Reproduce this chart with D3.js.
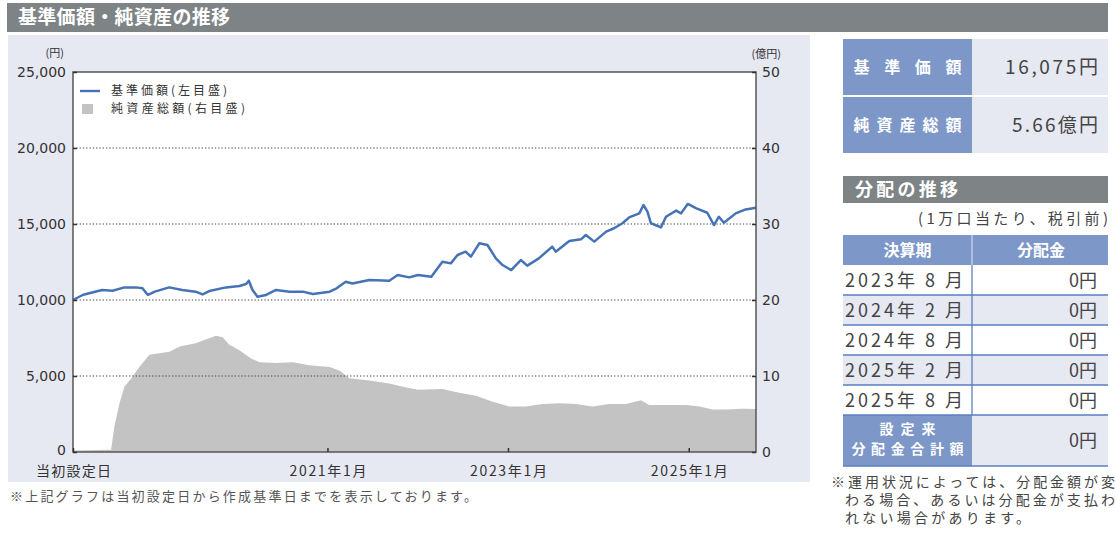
<!DOCTYPE html>
<html>
<head>
<meta charset="utf-8">
<script src="https://cdn.jsdelivr.net/npm/d3@7"></script>
<style>
body { margin: 0; background: #fff; }
svg { display: block; }
</style>
</head>
<body>
<script>
var parseDate = d3.timeParse("%Y-%m-%d")

var startDate = "2018-03-09"
var endDate = "2025-09-30"

// 基準価額 (円)
var navDates = ["2018-03-09","2018-04-17","2018-05-13","2018-07-05","2018-08-16","2018-10-03","2018-11-19","2018-12-15",
  "2019-01-06","2019-02-03","2019-04-02","2019-05-25","2019-07-18","2019-08-15","2019-09-11","2019-11-18",
  "2020-01-11","2020-02-07","2020-02-18","2020-03-04","2020-03-24","2020-04-28","2020-06-07","2020-08-01","2020-09-23","2020-11-03",
  "2021-01-10","2021-02-07","2021-03-16","2021-04-12","2021-06-19","2021-09-08","2021-10-12","2021-11-28",
  "2022-01-02","2022-02-25","2022-04-11","2022-05-15","2022-06-11","2022-07-14","2022-08-04","2022-09-07","2022-10-10","2022-11-13","2022-12-10",
  "2023-01-14","2023-02-22","2023-03-20","2023-05-06","2023-06-29","2023-07-13","2023-09-06","2023-10-23","2023-11-12","2023-12-16",
  "2024-02-02","2024-03-05","2024-04-08","2024-05-05","2024-06-15","2024-07-02","2024-07-18","2024-08-01","2024-09-11","2024-10-01","2024-11-11","2024-12-01","2024-12-28",
  "2025-02-01","2025-03-17","2025-04-13","2025-05-03","2025-05-23","2025-07-10","2025-08-19","2025-09-30"]
var navValues = [10000,10330,10440,10660,10610,10830,10830,10770,
  10330,10550,10830,10660,10550,10370,10590,10830,
  10920,11050,11270,10660,10220,10330,10660,10550,10550,10390,
  10550,10770,11200,11090,11320,11270,11640,11490,
  11640,11530,12520,12410,12960,13180,12850,13730,13620,12740,12300,
  11970,12630,12260,12740,13510,13180,13880,13990,14280,13840,
  14500,14720,15050,15440,15700,16250,15810,15050,14780,15480,15880,15700,16320,
  16030,15740,14930,15480,15080,15700,15960,16075]

// 純資産総額 (億円)
var assetDates = ["2018-03-09","2018-08-10","2018-08-23","2018-09-13","2018-10-03","2018-11-05","2018-12-02",
  "2019-01-12","2019-02-22","2019-04-02","2019-05-18","2019-07-18","2019-08-28","2019-10-08","2019-11-04","2019-12-01",
  "2020-01-11","2020-02-27","2020-04-01","2020-06-07","2020-08-14","2020-10-20",
  "2021-01-10","2021-02-20","2021-03-30","2021-06-19","2021-09-08","2021-11-02",
  "2022-01-02","2022-04-11","2022-06-18","2022-08-25","2022-10-31",
  "2023-01-07","2023-03-14","2023-05-20","2023-07-27","2023-10-03","2023-12-09",
  "2024-02-15","2024-04-22","2024-06-22","2024-07-25","2024-10-01","2024-12-21",
  "2025-02-14","2025-04-07","2025-05-30","2025-08-06","2025-09-30"]
var assetValues = [0.2,0.3,3.3,6.4,8.6,9.9,11.2,
  12.8,13.0,13.2,13.9,14.3,14.8,15.3,15.1,14.1,
  13.4,12.3,11.8,11.7,11.8,11.4,
  11.2,10.7,9.7,9.4,9.0,8.6,
  8.2,8.3,7.8,7.4,6.6,
  6.0,6.0,6.3,6.4,6.3,6.0,
  6.3,6.3,6.8,6.2,6.2,6.2,
  6.0,5.6,5.6,5.7,5.66]

var leftTicks = [0, 5000, 10000, 15000, 20000, 25000]
var rightTicks = [0, 10, 20, 30, 40, 50]
var xTickDates = ["2018-03-09", "2021-01-01", "2023-01-01", "2025-01-01"]
var xTickLabels = ["当初設定日", "2021年1月", "2023年1月", "2025年1月"]

var infoLabels = ["基準価額", "純資産総額"]
var infoValues = ["16,075円", "5.66億円"]

var distPeriods = ["2023年 8 月", "2024年 2 月", "2024年 8 月", "2025年 2 月", "2025年 8 月"]
var distAmounts = ["0円", "0円", "0円", "0円", "0円"]
var distTotal = "0円"

var noteLines = ["※運用状況によっては、分配金額が変", "わる場合、あるいは分配金が支払わ", "れない場合があります。"]

var JP = '"Noto Sans CJK JP", "Noto Sans", sans-serif'
var NUM = '"DejaVu Sans", "Noto Sans CJK JP", sans-serif'

var navBlue = "#4673b6", areaGray = "#c3c3c3", lav = "#e6e8f2",
    labelBlue = "#7c97c8", headGray = "#7e8386", ruleBlue = "#5a7ec0", ink = "#444"

var nav = navDates.map(function (d, i) { return { date: parseDate(d), value: navValues[i] } })
var assets = assetDates.map(function (d, i) { return { date: parseDate(d), value: assetValues[i] } })

var svg = d3.select("body").append("svg")
  .attr("width", 1116)
  .attr("height", 534)
  .style("font-family", JP)

// title bar
svg.append("rect").attr("x", 7).attr("y", 3).attr("width", 1101).attr("height", 29).attr("fill", headGray)
svg.append("text").attr("x", 18).attr("y", 24)
  .attr("fill", "#fff").style("font-size", "19px").style("font-weight", "bold")
  .attr("textLength", 212).attr("lengthAdjust", "spacing")
  .text("基準価額・純資産の推移")

// chart panel
svg.append("rect").attr("x", 8).attr("y", 35).attr("width", 802).attr("height", 447).attr("fill", lav)

var L = 73, R = 756, T = 72, B = 452

var x = d3.scaleTime().domain([parseDate(startDate), parseDate(endDate)]).range([L, R])
var yL = d3.scaleLinear().domain([0, 25000]).range([B, T])
var yR = d3.scaleLinear().domain([0, 50]).range([B, T])

svg.append("rect").attr("x", L).attr("y", T).attr("width", R - L).attr("height", B - T).attr("fill", "#fff")

svg.append("path")
  .datum(assets)
  .attr("fill", areaGray)
  .attr("d", d3.area()
    .x(function (d) { return x(d.date) })
    .y0(yR(0))
    .y1(function (d) { return yR(d.value) }))

svg.selectAll(".grid")
  .data(leftTicks.filter(function (v) { return v > 0 && v < 25000 }))
  .enter().append("line")
  .attr("class", "grid")
  .attr("x1", L).attr("x2", R)
  .attr("y1", function (d) { return yL(d) })
  .attr("y2", function (d) { return yL(d) })
  .attr("stroke", "#444")
  .attr("stroke-width", 1)
  .attr("stroke-dasharray", "1.3,2")

svg.append("path")
  .datum(nav)
  .attr("fill", "none")
  .attr("stroke", navBlue)
  .attr("stroke-width", 2.5)
  .attr("stroke-linejoin", "round")
  .attr("d", d3.line()
    .x(function (d) { return x(d.date) })
    .y(function (d) { return yL(d.value) }))

svg.append("rect").attr("x", L).attr("y", T).attr("width", R - L).attr("height", B - T)
  .attr("fill", "none").attr("stroke", "#555").attr("stroke-width", 1.5)

var axL = svg.append("g")
  .attr("transform", "translate(" + L + ",0)")
  .call(d3.axisLeft(yL).tickValues(leftTicks).tickSize(-4).tickPadding(7).tickFormat(d3.format(",")))
var axR = svg.append("g")
  .attr("transform", "translate(" + R + ",0)")
  .call(d3.axisRight(yR).tickValues(rightTicks).tickSize(-4).tickPadding(6))
var axX = svg.append("g")
  .attr("transform", "translate(0," + B + ")")
  .call(d3.axisBottom(x).tickValues(xTickDates.map(parseDate)).tickSize(-4).tickPadding(14)
    .tickFormat(function (d, i) { return xTickLabels[i] }))

;[axL, axR, axX].forEach(function (g) {
  g.attr("font-family", NUM).attr("font-size", 14).attr("color", "#333")
  g.select(".domain").remove()
  g.selectAll(".tick line").attr("stroke-width", 1.5)
})
axX.attr("font-family", JP).attr("font-size", 14)
axX.selectAll(".tick text").attr("textLength", function (d, i) { return i ? 77 : 75 }).attr("lengthAdjust", "spacing")
// the 0 label sits right above 当初設定日, nudge it up slightly
axL.selectAll(".tick text").filter(function (d) { return d === 0 }).attr("dy", "0.2em")

svg.append("text").attr("x", 64).attr("y", 57).attr("text-anchor", "end")
  .style("font-size", "11px").attr("fill", "#333").text("(円)")
svg.append("text").attr("x", 781).attr("y", 58).attr("text-anchor", "end")
  .style("font-size", "11px").attr("fill", "#333").text("(億円)")

// legend
svg.append("line").attr("x1", 80).attr("x2", 100).attr("y1", 91).attr("y2", 91)
  .attr("stroke", navBlue).attr("stroke-width", 2.4)
svg.append("rect").attr("x", 82).attr("y", 104).attr("width", 11).attr("height", 10).attr("fill", areaGray)
svg.append("text").attr("x", 111).attr("y", 95).style("font-size", "12px").attr("fill", "#333")
  .attr("textLength", 116).attr("lengthAdjust", "spacing").text("基準価額(左目盛)")
svg.append("text").attr("x", 111).attr("y", 113).style("font-size", "12px").attr("fill", "#333")
  .attr("textLength", 134).attr("lengthAdjust", "spacing").text("純資産総額(右目盛)")

svg.append("text").attr("x", 10).attr("y", 501).style("font-size", "13px").attr("fill", "#555")
  .attr("textLength", 467).attr("lengthAdjust", "spacing")
  .text("※上記グラフは当初設定日から作成基準日までを表示しております。")

// right side: 基準価額 / 純資産総額
var PX = 843, PM = 972, PR = 1108

var info = svg.selectAll(".info").data(infoLabels).enter().append("g").attr("class", "info")
info.append("rect").attr("x", PX).attr("y", function (d, i) { return 39 + i * 58 })
  .attr("width", PM - PX).attr("height", 56).attr("fill", labelBlue)
info.append("rect").attr("x", PM).attr("y", function (d, i) { return 39 + i * 58 })
  .attr("width", PR - PM).attr("height", 56).attr("fill", lav)
info.append("text").attr("x", (PX + PM) / 2).attr("y", function (d, i) { return 73 + i * 58 })
  .attr("text-anchor", "middle").attr("fill", "#fff").style("font-size", "16px").style("font-weight", "bold")
  .attr("textLength", 108).attr("lengthAdjust", "spacing")
  .text(function (d) { return d })
info.append("text").attr("x", 1098).attr("y", function (d, i) { return 74 + i * 58 })
  .attr("text-anchor", "end").attr("fill", ink).style("font-size", "19px")
  .attr("textLength", function (d, i) { return [93, 86][i] }).attr("lengthAdjust", "spacing")
  .text(function (d, i) { return infoValues[i] })

// 分配の推移
svg.append("rect").attr("x", PX).attr("y", 176).attr("width", PR - PX).attr("height", 27).attr("fill", headGray)
svg.append("text").attr("x", 855).attr("y", 196).attr("fill", "#fff")
  .style("font-size", "18px").style("font-weight", "bold")
  .attr("textLength", 103).attr("lengthAdjust", "spacing").text("分配の推移")
svg.append("text").attr("x", PR).attr("y", 224).attr("text-anchor", "end").attr("fill", ink)
  .style("font-size", "15px").attr("textLength", 190).attr("lengthAdjust", "spacing")
  .text("(1万口当たり、税引前)")

svg.append("rect").attr("x", PX).attr("y", 235).attr("width", PR - PX).attr("height", 30).attr("fill", labelBlue)
svg.append("line").attr("x1", PM).attr("x2", PM).attr("y1", 235).attr("y2", 265).attr("stroke", "#dfe5f2").attr("stroke-width", 1)
svg.append("text").attr("x", (PX + PM) / 2).attr("y", 256).attr("text-anchor", "middle")
  .attr("fill", "#fff").style("font-size", "16px").style("font-weight", "bold").text("決算期")
svg.append("text").attr("x", 1041).attr("y", 256).attr("text-anchor", "middle")
  .attr("fill", "#fff").style("font-size", "16px").style("font-weight", "bold").text("分配金")

var rows = svg.selectAll(".dist").data(distPeriods).enter().append("g").attr("class", "dist")
rows.append("rect").attr("x", PX).attr("y", function (d, i) { return 265 + i * 30 })
  .attr("width", PR - PX).attr("height", 30).attr("fill", function (d, i) { return i % 2 ? lav : "#fff" })
rows.append("text").attr("x", 845).attr("y", function (d, i) { return 287 + i * 30 })
  .attr("fill", ink).style("font-size", "18px")
  .attr("textLength", 118).attr("lengthAdjust", "spacing")
  .text(function (d) { return d })
rows.append("text").attr("x", 1097).attr("y", function (d, i) { return 287 + i * 30 })
  .attr("text-anchor", "end").attr("fill", ink).style("font-size", "18px")
  .text(function (d, i) { return distAmounts[i] })

var TT = 265 + distPeriods.length * 30, TB = TT + 51
svg.append("rect").attr("x", PX).attr("y", TT).attr("width", PM - PX).attr("height", TB - TT).attr("fill", labelBlue)
svg.append("rect").attr("x", PM).attr("y", TT).attr("width", PR - PM).attr("height", TB - TT).attr("fill", lav)
svg.append("text").attr("x", (PX + PM) / 2).attr("y", TT + 19).attr("text-anchor", "middle")
  .attr("fill", "#fff").style("font-size", "14px").style("font-weight", "bold")
  .attr("textLength", 56).attr("lengthAdjust", "spacing").text("設定来")
svg.append("text").attr("x", (PX + PM) / 2).attr("y", TT + 39).attr("text-anchor", "middle")
  .attr("fill", "#fff").style("font-size", "14px").style("font-weight", "bold")
  .attr("textLength", 112).attr("lengthAdjust", "spacing").text("分配金合計額")
svg.append("text").attr("x", 1097).attr("y", TT + 32).attr("text-anchor", "end")
  .attr("fill", ink).style("font-size", "18px").text(distTotal)

svg.selectAll(".rule").data(d3.range(distPeriods.length).map(function (i) { return 295 + i * 30 }).concat([TB]))
  .enter().append("line").attr("class", "rule")
  .attr("x1", PX).attr("x2", PR)
  .attr("y1", function (d) { return d }).attr("y2", function (d) { return d })
  .attr("stroke", ruleBlue).attr("stroke-width", 1.3)
svg.append("line").attr("x1", PM).attr("x2", PM).attr("y1", 265).attr("y2", TT)
  .attr("stroke", ruleBlue).attr("stroke-width", 1.3)

svg.selectAll(".note").data(noteLines).enter().append("text").attr("class", "note")
  .attr("x", function (d, i) { return i ? 845 : 831 })
  .attr("y", function (d, i) { return 487 + i * 18 })
  .attr("fill", ink).style("font-size", "14px")
  .attr("textLength", function (d, i) { return [284, 270, 185][i] }).attr("lengthAdjust", "spacing")
  .text(function (d) { return d })
</script>
</body>
</html>
